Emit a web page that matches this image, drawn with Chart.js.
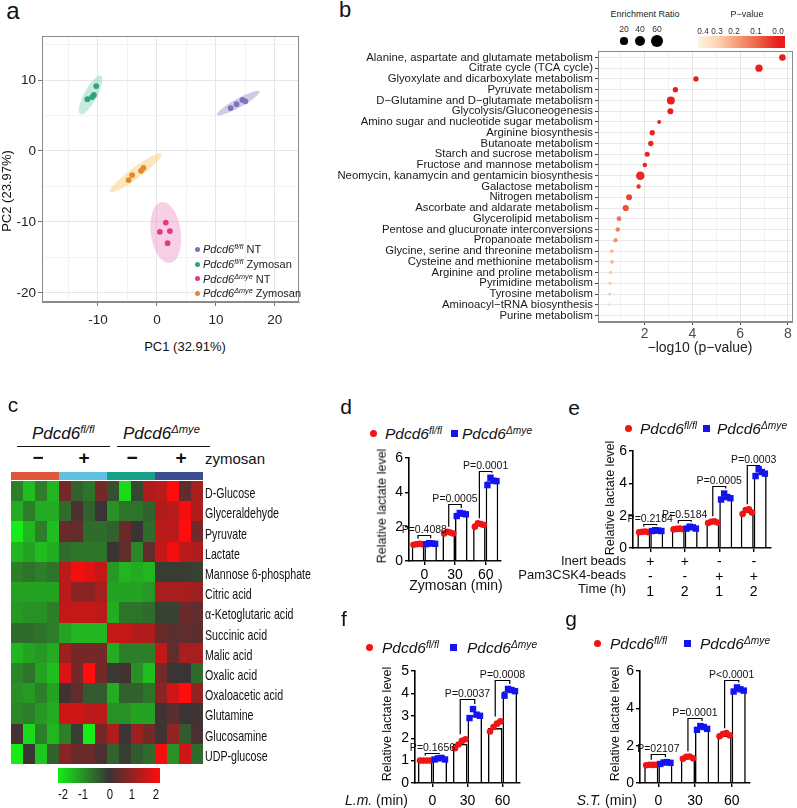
<!DOCTYPE html>
<html>
<head>
<meta charset="utf-8">
<script src="https://cdn.jsdelivr.net/npm/chart.js@4.4.1/dist/chart.umd.min.js"></script>
<style>
  body { margin: 0; background: #fff; }
  #fig { position: relative; width: 797px; height: 808px; overflow: hidden; font-family: "Liberation Sans", Arial, sans-serif; color: #111; }
  .t { position: absolute; white-space: nowrap; line-height: 1; }
  .t sup { font-size: 0.66em; vertical-align: 0.5em; line-height: 0; }
  .shape { position: absolute; }
</style>
</head>
<body>
<div id="fig"></div>
<script>
// ---------- panel a : PCA ----------
const pcaGroups = ["NT", "Zymosan", "NT", "Zymosan"];
const pcaGeno = ["fl/fl", "fl/fl", "Δmye", "Δmye"];
const pc1 = [[12.5, 13.5, 14.5, 15.0], [-10.3, -11.8, -11.0, -10.7], [1.5, 0.5, 2.2, 1.8], [-4.8, -4.2, -2.7, -2.3]];
const pc2 = [[6.05, 6.6, 7.2, 7.0], [9.15, 7.3, 7.6, 7.9], [-10.1, -11.4, -11.3, -13.0], [-4.1, -3.4, -2.8, -2.4]];
// confidence ellipses: major axis end points (pc1, pc2) and minor/major ratio
const ellipseEnds = [[10.2, 5.1, 17.4, 8.4], [-13.0, 5.2, -9.5, 10.6], [0.8, -7.2, 2.2, -15.8], [-8.0, -5.8, 0.8, -0.4]];
const ellipseRatio = [0.18, 0.3, 0.49, 0.17];

// ---------- panel b : pathway enrichment ----------
const pathways = [
  "Alanine, aspartate and glutamate metabolism", "Citrate cycle (TCA cycle)", "Glyoxylate and dicarboxylate metabolism",
  "Pyruvate metabolism", "D\u2212Glutamine and D\u2212glutamate metabolism", "Glycolysis/Gluconeogenesis",
  "Amino sugar and nucleotide sugar metabolism", "Arginine biosynthesis", "Butanoate metabolism",
  "Starch and sucrose metabolism", "Fructose and mannose metabolism", "Neomycin, kanamycin and gentamicin biosynthesis",
  "Galactose metabolism", "Nitrogen metabolism", "Ascorbate and aldarate metabolism", "Glycerolipid metabolism",
  "Pentose and glucuronate interconversions", "Propanoate metabolism", "Glycine, serine and threonine metabolism",
  "Cysteine and methionine metabolism", "Arginine and proline metabolism", "Pyrimidine metabolism",
  "Tyrosine metabolism", "Aminoacyl\u2212tRNA biosynthesis", "Purine metabolism"
];
const negLogP = [7.77, 6.79, 4.15, 3.29, 3.1, 3.08, 2.61, 2.32, 2.26, 2.11, 2.01, 1.82, 1.75, 1.35, 1.21, 0.93, 0.875, 0.78, 0.625, 0.64, 0.57, 0.55, 0.54, 0.5, 0.4];
const enrichRatio = [17, 21, 11, 11, 25, 14, 6, 11, 11, 10, 8, 29, 7.5, 14, 15, 9, 8, 7.5, 5.6, 5.6, 4.5, 4.5, 4, 3.5, 3];
const sizeLegend = [20, 40, 60];
const pLegendTicks = ["0.4", "0.3", "0.2", "0.1", "0.0"];

// ---------- panel c : heatmap ----------
const metabolites = ["D-Glucose", "Glyceraldehyde", "Pyruvate", "Lactate", "Mannose 6-phosphate", "Citric acid",
  "\u03b1-Ketoglutaric acid", "Succinic acid", "Malic acid", "Oxalic acid", "Oxaloacetic acid", "Glutamine",
  "Glucosamine", "UDP-glucose"];
const heatValues = [
  [-0.8, -1.5, -0.8, -1.4, 0.6, -0.5, -0.7, 0.6, -0.3, -1.8, -0.2, 1.2, 1.3, 2.0, 0.4, 1.1],
  [-1.3, -0.8, -1.3, -1.3, -0.6, 0.2, -0.5, 0.0, -1.0, -0.7, -0.7, -0.5, 1.2, 1.3, 1.9, 1.2],
  [-2.0, -1.4, -0.8, -1.5, 0.5, 0.4, -0.6, -0.6, -0.5, 0.5, 0.0, -0.6, 1.3, 1.3, 2.0, 0.6],
  [-1.4, -1.2, -1.5, -1.3, -0.6, -0.7, -0.7, -0.7, 0.0, 0.4, -0.9, 0.4, 1.4, 1.9, 1.3, 1.2],
  [-0.8, -0.7, -0.8, -0.7, 1.3, 1.9, 1.7, 1.4, -1.1, -1.4, -1.3, -1.4, -0.1, -0.1, -0.1, -0.15],
  [-1.2, -1.2, -1.2, -1.2, 1.3, 0.8, 0.8, 1.1, -1.2, -1.2, -1.2, -1.1, 1.1, 1.1, 1.1, 1.0],
  [-1.1, -1.0, -1.0, -0.8, 1.4, 1.4, 1.4, 1.3, -1.3, -0.7, -0.7, -0.6, -0.15, -0.15, 0.5, 0.4],
  [-0.6, -0.6, -0.7, -0.8, -1.2, -1.4, -1.4, -1.4, 1.4, 1.4, 1.2, 1.2, 0.5, 0.3, 0.4, 0.35],
  [-1.4, -1.2, -1.1, -1.3, 1.0, 0.6, 0.6, 0.6, -1.3, -0.8, -0.8, -0.8, 1.4, 0.4, 1.1, 1.1],
  [-0.9, -0.7, -1.2, -1.5, 1.6, 0.6, 2.0, 0.6, -0.05, 0.1, -1.0, -1.5, 0.6, 0.0, 0.0, -0.6],
  [-1.0, -1.1, -0.8, -1.2, 0.1, 0.4, -0.4, -0.4, -1.3, -0.5, -0.5, -0.7, 0.8, 1.5, 2.0, 0.9],
  [-0.9, -0.8, -1.1, -1.3, 1.5, 1.5, 1.3, 1.3, -1.0, -1.0, -1.2, -1.2, 0.05, 0.3, 0.0, 0.05],
  [0.1, -1.8, -0.8, -1.4, -0.8, -0.1, -2.0, 0.6, 1.2, 0.0, 1.0, 0.6, 0.05, 0.9, -0.4, 0.15],
  [-2.0, 0.0, -1.6, -0.5, 0.8, 0.5, 0.5, 0.15, -0.5, -0.1, -0.4, -0.6, 1.9, -1.0, 1.5, -0.6]
];
const heatLegendTicks = ["-2", "-1", "0", "1", "2"];

// ---------- panels d-g : lactate ----------
const dCats = ["0", "30", "60"];
const dFl = [0.98, 1.65, 2.1];
const dKo = [1.01, 2.72, 4.65];
const dFlPts = [[0.95, 0.98, 1.0, 0.97], [1.6, 1.7, 1.66, 1.6], [2.0, 2.2, 2.15, 2.1]];
const dKoPts = [[0.98, 1.04, 1.02, 1.0], [2.62, 2.8, 2.76, 2.72], [4.42, 4.85, 4.68, 4.65]];
const dBracket = [1.49, 3.31, 5.24];
const dP = ["P=0.4088", "P=0.0005", "P=0.0001"];

const eInert = ["+", "+", "-", "-"];
const ePam = ["-", "-", "+", "+"];
const eTime = ["1", "2", "1", "2"];
const eFl = [1.0, 1.18, 1.6, 2.25];
const eKo = [1.07, 1.25, 3.15, 4.65];
const eFlPts = [[0.97, 1.0, 1.02, 0.98], [1.15, 1.18, 1.2, 1.16], [1.55, 1.62, 1.65, 1.58], [2.1, 2.35, 2.4, 2.2]];
const eKoPts = [[1.05, 1.1, 1.08, 1.05], [1.2, 1.32, 1.28, 1.2], [3.0, 3.37, 3.15, 3.08], [4.45, 4.87, 4.7, 4.6]];
const eBracket = [1.51, 1.72, 3.83, 5.11];
const eP = ["P=0.2184", "P=0.5184", "P=0.0005", "P=0.0003"];

const fCats = ["0", "30", "60"];
const fFl = [1.0, 1.75, 2.45];
const fKo = [1.07, 3.02, 4.1];
const fFlPts = [[1.0, 1.0, 1.0, 1.0], [1.55, 1.72, 1.88, 1.95], [2.3, 2.5, 2.65, 2.75]];
const fKoPts = [[1.05, 1.1, 1.12, 1.05], [2.9, 3.3, 3.05, 3.0], [3.9, 4.2, 4.15, 4.1]];
const fBracket = [1.34, 3.75, 4.6];
const fP = ["P=0.1656", "P=0.0037", "P=0.0008"];

const gCats = ["0", "30", "60"];
const gFl = [0.97, 1.35, 2.55];
const gKo = [1.08, 2.95, 5.0];
const gFlPts = [[0.95, 0.98, 0.97, 0.98], [1.3, 1.4, 1.42, 1.32], [2.5, 2.62, 2.67, 2.55]];
const gKoPts = [[1.02, 1.1, 1.12, 1.08], [2.85, 3.05, 3.0, 2.9], [4.9, 5.12, 5.02, 4.95]];
const gBracket = [1.55, 3.47, 5.52];
const gP = ["P=02107", "P=0.0001", "P<0.0001"];

// ---------- helpers ----------
const FONT = '"Liberation Sans", Arial, sans-serif';
Chart.defaults.font.family = FONT;
Chart.defaults.color = "#111";
const fig = document.getElementById("fig");

function put(x, y, html, size, align, extra) {
  const d = document.createElement("div");
  d.className = "t";
  d.innerHTML = html;
  const tx = align === "left" ? "0" : align === "right" ? "-100%" : "-50%";
  d.style.cssText = `left:${x}px;top:${y}px;font-size:${size}px;transform:translate(${tx},-50%);${extra || ""}`;
  fig.appendChild(d);
  return d;
}
function putV(x, y, html, size, extra) {
  const d = put(x, y, html, size, "center", extra);
  d.style.transform = "translate(-50%,-50%) rotate(-90deg)";
  return d;
}
// narrow-looking text (no condensed font installed): squeeze horizontally
function putNarrow(x, y, html, size, squeeze, align) {
  const d = put(x, y, html, size, align);
  const tx = align === "left" ? "0" : "-50%";
  d.style.transformOrigin = align === "left" ? "0 50%" : "50% 50%";
  d.style.transform = `translate(${tx},-50%) scaleX(${squeeze})`;
  return d;
}
function shape(x, y, w, h, css) {
  const d = document.createElement("div");
  d.className = "shape";
  d.style.cssText = `left:${x}px;top:${y}px;width:${w}px;height:${h}px;${css}`;
  fig.appendChild(d);
  return d;
}
// canvas whose chart area lands exactly on box
function mount(box, pad) {
  const c = document.createElement("canvas");
  const w = Math.round(box.r - box.l + pad.l + pad.r), h = Math.round(box.b - box.t + pad.t + pad.b);
  c.width = w; c.height = h;
  c.style.cssText = `position:absolute;left:${box.l - pad.l}px;top:${box.t - pad.t}px;width:${w}px;height:${h}px`;
  fig.appendChild(c);
  return c;
}
const framePlugin = {
  id: "frame",
  afterDraw(chart, args, opts) {
    if (!opts.color) return;
    const { ctx, chartArea: a } = chart;
    ctx.save();
    ctx.strokeStyle = opts.color; ctx.lineWidth = 1;
    ctx.strokeRect(Math.round(a.left) + 0.5, Math.round(a.top) + 0.5, Math.round(a.right - a.left) - 1, Math.round(a.bottom - a.top) - 1);
    ctx.restore();
  }
};
const ital = (g) => `<i>Pdcd6<sup>${g}</sup></i>`;

// ================= panel a =================
put(13, 11, "a", 24);
const pcaColors = ["#7d73ba", "#2ea47c", "#e5368c", "#e58a2c"];
const pcaFills = ["rgba(150,140,205,0.45)", "rgba(120,205,170,0.4)", "rgba(240,150,200,0.45)", "rgba(250,205,120,0.5)"];
const ellipsePlugin = {
  id: "ellipses",
  beforeDatasetsDraw(chart) {
    const { ctx, scales: { x, y } } = chart;
    ctx.save();
    ellipseEnds.forEach((e, i) => {
      const x1 = x.getPixelForValue(e[0]), y1 = y.getPixelForValue(e[1]);
      const x2 = x.getPixelForValue(e[2]), y2 = y.getPixelForValue(e[3]);
      const len = Math.hypot(x2 - x1, y2 - y1) / 2;
      ctx.beginPath();
      ctx.ellipse((x1 + x2) / 2, (y1 + y2) / 2, len, len * ellipseRatio[i], Math.atan2(y2 - y1, x2 - x1), 0, Math.PI * 2);
      ctx.fillStyle = pcaFills[i];
      ctx.fill();
    });
    ctx.restore();
  }
};
const aBox = { l: 42, r: 299, t: 36, b: 302 };
const aPad = { l: 42, t: 10, r: 14, b: 30 };
const minorGrid = (ctx) => (ctx.tick && ctx.tick.value % 10 === 0 ? "#e6e6e6" : "#f3f3f3");
const majorTick = (ctx) => (ctx.tick && ctx.tick.value % 10 === 0 ? "#777" : "rgba(0,0,0,0)");
new Chart(mount(aBox, aPad), {
  type: "scatter",
  data: {
    datasets: pc1.map((xs, g) => ({
      label: pcaGeno[g] + " " + pcaGroups[g],
      data: xs.map((v, k) => ({ x: v, y: pc2[g][k] })),
      pointRadius: 2.9, pointBorderWidth: 0, backgroundColor: pcaColors[g]
    }))
  },
  options: {
    responsive: false, animation: false, devicePixelRatio: 1,
    layout: { padding: { top: aPad.t, right: aPad.r, left: 0, bottom: 0 } },
    plugins: { legend: { display: false }, tooltip: { enabled: false }, frame: { color: "#8a8a8a" } },
    scales: {
      x: {
        type: "linear", min: -19.5, max: 24.1,
        ticks: { stepSize: 5, includeBounds: false, autoSkip: false, maxRotation: 0, color: "#222", font: { size: 13.5 }, padding: 6,
          callback: (v) => (v % 10 === 0 ? v : "") },
        grid: { color: minorGrid, tickColor: majorTick, tickLength: 4 },
        border: { color: "#8a8a8a" },
        afterFit: (s) => { s.height = aPad.b; }
      },
      y: {
        type: "linear", min: -21.3, max: 16.2,
        ticks: { stepSize: 5, includeBounds: false, autoSkip: false, color: "#222", font: { size: 13.5 }, padding: 2,
          callback: (v) => (v % 10 === 0 ? v : "") },
        grid: { color: minorGrid, tickColor: majorTick, tickLength: 4 },
        border: { color: "#8a8a8a" },
        afterFit: (s) => { s.width = aPad.l; }
      }
    }
  },
  plugins: [ellipsePlugin, framePlugin]
});
put(185, 346, "PC1 (32.91%)", 13);
putV(6, 191, "PC2 (23.97%)", 13);
[249.3, 264, 278.7, 293.3].forEach((y, g) => {
  shape(194.5, y - 2.5, 5, 5, `border-radius:50%;background:${pcaColors[g]}`);
  put(203, y, `${ital(pcaGeno[g])} ${pcaGroups[g]}`, 11, "left", "color:#222");
});

// ================= panel b =================
put(345, 10, "b", 22);
const pBreaks = [0.4, 0.3, 0.2, 0.1, 0.0];
const pRgb = [[254, 243, 230], [252, 214, 182], [248, 166, 126], [240, 106, 76], [232, 30, 28]];
function pColor(p) {
  p = Math.max(0, Math.min(0.4, p));
  for (let i = 0; i < 4; i++) {
    if (p <= pBreaks[i] && p >= pBreaks[i + 1]) {
      const t = (pBreaks[i] - p) / (pBreaks[i] - pBreaks[i + 1]);
      const c = pRgb[i].map((v, k) => Math.round(v + (pRgb[i + 1][k] - v) * t));
      return `rgb(${c.join(",")})`;
    }
  }
  return `rgb(${pRgb[4].join(",")})`;
}
const sizeOf = (er) => 0.8 * Math.sqrt(er);
const bBox = { l: 598, r: 795, t: 51, b: 322 };
const bPad = { l: 272, t: 10, r: 2, b: 24 };
new Chart(mount(bBox, bPad), {
  type: "bubble",
  data: {
    datasets: [{
      data: pathways.map((p, i) => ({ x: negLogP[i], y: i, r: sizeOf(enrichRatio[i]) })),
      backgroundColor: (ctx) => pColor(Math.pow(10, -negLogP[ctx.dataIndex])),
      borderWidth: 0
    }]
  },
  options: {
    responsive: false, animation: false, devicePixelRatio: 1,
    layout: { padding: { top: bPad.t, right: bPad.r, left: 0, bottom: 0 } },
    plugins: { legend: { display: false }, tooltip: { enabled: false }, frame: { color: "#8a8a8a" } },
    scales: {
      x: {
        type: "linear", min: 0.05, max: 8.2,
        ticks: { stepSize: 1, includeBounds: false, autoSkip: false, maxRotation: 0, color: "#4d4d4d", font: { size: 14 }, padding: 1,
          callback: (v) => (v > 0 && v % 2 === 0 ? v : "") },
        grid: { color: (c) => (c.tick && c.tick.value % 2 === 0 ? "#e6e6e6" : "#f2f2f2"),
          tickColor: (c) => (c.tick && c.tick.value % 2 === 0 ? "#444" : "rgba(0,0,0,0)"), tickLength: 3 },
        border: { color: "#8a8a8a" },
        afterFit: (s) => { s.height = bPad.b; }
      },
      y: {
        type: "linear", reverse: true, min: -0.6, max: 24.6,
        ticks: { stepSize: 1, includeBounds: false, autoSkip: false, color: "#1a1a1a", font: { size: 11.3 }, padding: 2,
          callback: (v) => pathways[v] || "" },
        grid: { color: "#e9e9e9", tickColor: "#444", tickLength: 3 },
        border: { color: "#8a8a8a" },
        afterFit: (s) => { s.width = bPad.l; }
      }
    }
  },
  plugins: [framePlugin]
});
put(645, 14, "Enrichment Ratio", 9, "center", "color:#222");
[624, 640, 657].forEach((x, i) => {
  const r = sizeOf(sizeLegend[i]);
  put(x, 29, String(sizeLegend[i]), 8.6, "center", "color:#333");
  shape(x - r, 41 - r, 2 * r, 2 * r, "border-radius:50%;background:#000");
});
put(747, 14, "P\u2212value", 9, "center", "color:#222");
shape(698, 36, 87, 12, `background:linear-gradient(to right, ${pColor(0.42)} 0%, ${pColor(0.3)} 21%, ${pColor(0.2)} 41%, ${pColor(0.1)} 66%, ${pColor(0)} 92%, ${pColor(0)} 100%)`);
[703, 717, 734, 756, 778].forEach((x, i) => put(x, 31.5, pLegendTicks[i], 8.2, "center", "color:#333"));
put(700, 347, "\u2212log10 (p\u2212value)", 14, "center", "color:#222");

// ================= panel c =================
put(13, 404, "c", 21);
put(32, 433, ital("fl/fl"), 17, "left");
put(123, 433, ital("\u0394mye"), 17, "left");
shape(17, 445.5, 93, 1.6, "background:#111");
shape(117, 445.5, 93, 1.6, "background:#111");
["\u2212", "+", "\u2212", "+"].forEach((s, i) => put([38, 84, 132, 181][i], 457, s, 19, "center", "font-weight:bold"));
put(205, 458, "zymosan", 15, "left");
["#e1573b", "#60c2de", "#18a088", "#3b4f90"].forEach((c, i) => shape(11 + 48 * i, 472, 48, 7.5, `background:${c}`));
function heatColor(v) {
  const t = Math.max(-1, Math.min(1, v / 2));
  const mid = [58, 52, 52];
  if (t < 0) {
    const a = -t;
    return `rgb(${Math.round(mid[0] * (1 - a) + 22 * a)},${Math.round(mid[1] + (236 - mid[1]) * a)},${Math.round(mid[2] * (1 - a) + 22 * a)})`;
  }
  return `rgb(${Math.round(mid[0] + (255 - mid[0]) * t)},${Math.round(mid[1] * (1 - t) + 12 * t)},${Math.round(mid[2] * (1 - t) + 12 * t)})`;
}
const heatPlugin = {
  id: "heat",
  beforeDatasetsDraw(chart) {
    const { ctx, scales: { x, y }, chartArea: a } = chart;
    const h = (a.bottom - a.top) / metabolites.length;
    ctx.save();
    heatValues.forEach((row, r) => {
      const yc = y.getPixelForValue(r);
      const y0 = Math.round(yc - h / 2), y1 = Math.round(yc + h / 2);
      row.forEach((v, c) => {
        const x0 = Math.round(x.getPixelForValue(c)), x1 = Math.round(x.getPixelForValue(c + 1));
        ctx.fillStyle = heatColor(v);
        ctx.fillRect(x0, y0, x1 - x0, y1 - y0);
      });
    });
    ctx.restore();
  }
};
const cBox = { l: 11, r: 203, t: 481, b: 764 };
const cPad = { l: 0, t: 4, r: 4, b: 4 };
const heatChart = new Chart(mount(cBox, cPad), {
  type: "scatter",
  data: { datasets: [] },
  options: {
    responsive: false, animation: false, devicePixelRatio: 1,
    layout: { padding: { top: cPad.t, right: cPad.r, left: 0, bottom: cPad.b } },
    plugins: { legend: { display: false }, tooltip: { enabled: false } },
    scales: {
      x: { type: "linear", min: 0, max: heatValues[0].length, display: false },
      y: { type: "category", labels: metabolites, offset: true, display: false }
    }
  },
  plugins: [heatPlugin]
});
// row labels placed on the heatmap's own y scale
metabolites.forEach((m, r) => {
  putNarrow(cBox.r + 2, cBox.t - cPad.t + heatChart.scales.y.getPixelForValue(r) + 1, m, 15, 0.71, "left");
});
shape(58, 768, 102, 15, `background:linear-gradient(to right, ${heatColor(-2)}, ${heatColor(0)}, ${heatColor(2)})`);
[63, 83, 110, 132, 156].forEach((x, i) => putNarrow(x, 794, heatLegendTicks[i], 14.5, 0.78, "center"));

// ================= panels d-g =================
const dotsPlugin = {
  id: "dots",
  afterDatasetsDraw(chart, args, o) {
    const { ctx } = chart;
    const ys = chart.scales.y;
    const m0 = chart.getDatasetMeta(0), m1 = chart.getDatasetMeta(1);
    ctx.save();
    [m0, m1].forEach((meta, di) => {
      meta.data.forEach((bar, j) => {
        const vals = o.pts[di][j];
        vals.forEach((v, k) => {
          const x = bar.x + (k - (vals.length - 1) / 2) * bar.width * 0.24;
          const y = ys.getPixelForValue(v);
          if (di === 0) {
            ctx.fillStyle = "#f01414";
            ctx.beginPath(); ctx.arc(x, y, 3.3, 0, Math.PI * 2); ctx.fill();
          } else {
            ctx.fillStyle = "#1414f0";
            ctx.fillRect(x - 3.2, y - 3.2, 6.4, 6.4);
          }
        });
      });
    });
    ctx.strokeStyle = "#000"; ctx.lineWidth = 1.2;
    ctx.fillStyle = "#111"; ctx.font = `10.5px ${FONT}`; ctx.textAlign = "center"; ctx.textBaseline = "alphabetic";
    o.bracket.forEach((bv, j) => {
      const b0 = m0.data[j], b1 = m1.data[j];
      const yt = Math.round(ys.getPixelForValue(bv)) + 0.5;
      const y0 = ys.getPixelForValue(Math.max(...o.pts[0][j])) - 5;
      const y1 = ys.getPixelForValue(Math.max(...o.pts[1][j])) - 5;
      ctx.beginPath();
      ctx.moveTo(b0.x, Math.max(y0, yt)); ctx.lineTo(b0.x, yt); ctx.lineTo(b1.x, yt); ctx.lineTo(b1.x, Math.max(y1, yt));
      ctx.stroke();
      ctx.fillText(o.text[j], (b0.x + b1.x) / 2, yt - 2.5);
    });
    ctx.restore();
  }
};
function barPanel(o) {
  new Chart(mount(o.box, o.pad), {
    type: "bar",
    data: {
      labels: o.labels,
      datasets: [
        { data: o.fl, backgroundColor: "#fff", borderColor: "#000", borderWidth: 1.6 },
        { data: o.ko, backgroundColor: "#fff", borderColor: "#000", borderWidth: 1.6 }
      ]
    },
    options: {
      responsive: false, animation: false, devicePixelRatio: 1,
      layout: { padding: { top: o.pad.t, right: o.pad.r, left: 0, bottom: 0 } },
      datasets: { bar: { categoryPercentage: o.cat, barPercentage: 1 } },
      plugins: { legend: { display: false }, tooltip: { enabled: false },
        dots: { pts: [o.flPts, o.koPts], bracket: o.bracket, text: o.text } },
      scales: {
        x: {
          grid: { display: true, drawOnChartArea: false, offset: false, color: "#000", tickLength: 4, lineWidth: 1.4 },
          border: { color: "#000", width: 1.6 },
          ticks: { color: "#000", font: { size: 14, lineHeight: 1.1 }, padding: o.xPad, maxRotation: 0, autoSkip: false },
          afterFit: (s) => { s.height = o.pad.b; }
        },
        y: {
          min: 0, max: o.max,
          ticks: { stepSize: o.step, color: "#000", font: { size: 14 }, padding: 2 },
          grid: { display: true, drawOnChartArea: false, color: "#000", tickLength: 4, lineWidth: 1.4 },
          border: { color: "#000", width: 1.6 },
          afterFit: (s) => { s.width = o.pad.l; }
        }
      }
    },
    plugins: [dotsPlugin]
  });
}
function barLegend(dotX, textX, sqX, text2X, y) {
  shape(dotX - 3.5, y - 3.5, 7, 7, "border-radius:50%;background:#f01414");
  put(textX, y + 1, ital("fl/fl"), 15.5, "left");
  shape(sqX - 3.5, y - 3.5, 7, 7, "background:#1414f0");
  put(text2X, y + 1, ital("\u0394mye"), 15.5, "left");
}

// d
put(346, 406, "d", 21);
barLegend(373, 385, 454, 462, 433);
barPanel({ box: { l: 409, r: 501, t: 458, b: 561 }, pad: { l: 28, t: 12, r: 8, b: 22 }, labels: dCats,
  fl: dFl, ko: dKo, flPts: dFlPts, koPts: dKoPts, bracket: dBracket, text: dP, max: 6, step: 2, cat: 0.82, xPad: 2 });
putV(382, 506, "Relative lactate level", 12.5);
put(456, 585, "Zymosan (min)", 14);

// e
put(574, 407, "e", 21);
barLegend(628, 640, 706, 717, 428);
barPanel({ box: { l: 633, r: 771, t: 451, b: 548 }, pad: { l: 28, t: 12, r: 8, b: 50 },
  labels: eInert.map((v, i) => [v, ePam[i], eTime[i]]),
  fl: eFl, ko: eKo, flPts: eFlPts, koPts: eKoPts, bracket: eBracket, text: eP, max: 6, step: 2, cat: 0.75, xPad: 2 });
putV(610, 498, "Relative lactate level", 12.5);
put(626, 560, "Inert beads", 13, "right");
put(626, 574, "Pam3CSK4-beads", 13, "right");
put(626, 588, "Time (h)", 13, "right");

// f
put(344, 618, "f", 21);
barLegend(369, 382, 453, 467, 647);
barPanel({ box: { l: 415, r: 520, t: 671, b: 783 }, pad: { l: 28, t: 12, r: 8, b: 22 }, labels: fCats,
  fl: fFl, ko: fKo, flPts: fFlPts, koPts: fKoPts, bracket: fBracket, text: fP, max: 5, step: 1, cat: 0.83, xPad: 6 });
putV(387, 724, "Relative lactate level", 12.5);
put(408, 800, "<i>L.m.</i> (min)", 14, "right");

// g
put(571, 618, "g", 21);
barLegend(597, 610, 687, 700, 643);
barPanel({ box: { l: 640, r: 750, t: 671, b: 783 }, pad: { l: 28, t: 12, r: 8, b: 22 }, labels: gCats,
  fl: gFl, ko: gKo, flPts: gFlPts, koPts: gKoPts, bracket: gBracket, text: gP, max: 6, step: 2, cat: 0.77, xPad: 6 });
putV(615, 724, "Relative lactate level", 12.5);
put(637, 800, "<i>S.T.</i> (min)", 14, "right");
</script>
</body>
</html>
